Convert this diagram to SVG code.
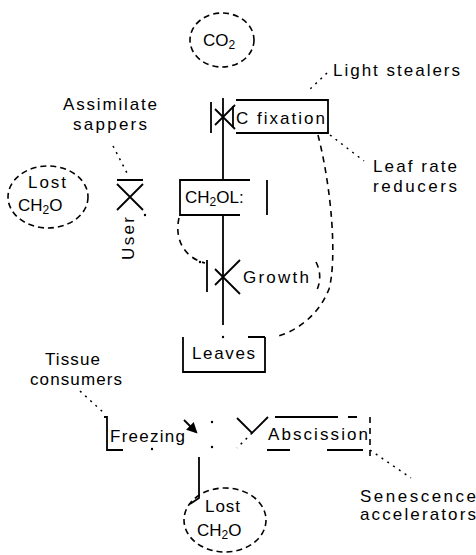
<svg xmlns="http://www.w3.org/2000/svg" width="476" height="555" viewBox="0 0 476 555">
<style>
.ln{stroke:#000;stroke-width:1.8;fill:none}
.cl{stroke:#000;stroke-width:1.6;fill:none;stroke-dasharray:6 4}
.dsh{stroke:#000;stroke-width:1.6;fill:none;stroke-dasharray:6 5}
.dot{stroke:#000;stroke-width:1.5;fill:none;stroke-dasharray:2 5}
.t{font-family:"Liberation Sans","DejaVu Sans",Arial,sans-serif;font-size:17px;fill:#000}
</style>
<defs>
<marker id="ah" viewBox="0 0 10 10" refX="8" refY="5" markerWidth="6" markerHeight="6" orient="auto">
<path d="M0,0 L10,5 L0,10 Z" fill="#000"/>
</marker>
</defs>
<rect width="476" height="555" fill="#fff"/>

<g id="connectors">
<path class="ln" d="M223,98 V181"/>
<path class="ln" d="M223,215 V325"/>
<path class="dsh" d="M318,135 C332,190 337,260 329,289 C319,315 296,332 275,337"/>
<path class="dsh" d="M316,262 C321,272 321,282 316,292"/>
<path class="dsh" d="M179,218 C174,240 185,258 205,263"/>
<path class="dot" d="M327,73 L308,91"/>
<path class="dot" d="M330,135 L364,161"/>
<path class="dot" d="M113,146 L128,175"/>
<path class="dot" d="M80,391 L105,414"/>
<path class="dot" d="M370,450 L411,478"/>
<path class="ln" d="M184,420 L196,432" marker-end="url(#ah)"/>
<path class="ln" d="M199,457 V498 L190,504"/>
<circle cx="212" cy="422" r="1.2" fill="#000"/>
<circle cx="212" cy="447" r="1.2" fill="#000"/>
<circle cx="223" cy="337" r="1.2" fill="#000"/>
<circle cx="145" cy="215" r="1.2" fill="#000"/>
<circle cx="200" cy="262" r="1.2" fill="#000"/>
</g>

<g id="co2">
<ellipse class="cl" cx="222" cy="40" rx="32" ry="27"/>
<text class="t" x="203" y="46">CO<tspan font-size="12" dy="3">2</tspan></text>
</g>

<g id="light-stealers">
<text class="t" x="333" y="76" textLength="127" lengthAdjust="spacing">Light stealers</text>
</g>

<g id="c-fixation">
<path class="ln" d="M211,102 V133 M215,109 L235,129 M215,125 L235,105"/>
<path class="ln" d="M236,100 H328 V133 H236 M233,106 V127"/>
<text class="t" x="236" y="124" textLength="89" lengthAdjust="spacing">C fixation</text>
</g>

<g id="leaf-rate-reducers">
<text class="t" x="373" y="172" textLength="84" lengthAdjust="spacing">Leaf rate</text>
<text class="t" x="373" y="192" textLength="84" lengthAdjust="spacing">reducers</text>
</g>

<g id="assimilate-sappers">
<text class="t" x="63" y="110" textLength="94" lengthAdjust="spacing">Assimilate</text>
<text class="t" x="73" y="130" textLength="74" lengthAdjust="spacing">sappers</text>
</g>

<g id="lost-ch2o-top">
<ellipse class="cl" cx="48" cy="197" rx="40" ry="31"/>
<text class="t" x="28" y="188" textLength="38" lengthAdjust="spacing">Lost</text>
<text class="t" x="18" y="211">CH<tspan font-size="12" dy="3">2</tspan><tspan dy="-3">O</tspan></text>
</g>

<g id="use">
<path class="ln" d="M117,180 H143 M117,184 L143,210 M117,210 L143,184"/>
<text class="t" transform="translate(134,260) rotate(-90)" x="0" y="0" textLength="43" lengthAdjust="spacing">User</text>
</g>

<g id="ch2o">
<path class="ln" d="M250,180 H180 V215 H240 M267,180 V215"/>
<text class="t" x="185" y="203">CH<tspan font-size="12" dy="3">2</tspan><tspan dy="-3">OL:</tspan></text>
</g>

<g id="growth">
<path class="ln" d="M207,260 V292 M215,269 L240,294 M215,285 L240,260"/>
<text class="t" x="243" y="283" textLength="66" lengthAdjust="spacing">Growth</text>
</g>

<g id="leaves">
<path class="ln" d="M183,337 V372 H265 V337 M248,337 H265"/>
<text class="t" x="192" y="359" textLength="63" lengthAdjust="spacing">Leaves</text>
</g>

<g id="tissue-consumers">
<text class="t" x="45" y="365" textLength="55" lengthAdjust="spacing">Tissue</text>
<text class="t" x="30" y="385" textLength="92" lengthAdjust="spacing">consumers</text>
</g>

<g id="freezing">
<path class="ln" d="M104,417 H107 V450 H123"/>
<circle cx="152" cy="449" r="1.2" fill="#000"/>
<text class="t" x="110" y="442" textLength="75" lengthAdjust="spacing">Freezing</text>
</g>

<g id="abscission">
<path class="ln" d="M237,418 L252,433 L268,417"/>
<path class="dot" d="M252,433 L237,448"/>
<path class="ln" d="M275,417 H338 M348,417 H357"/>
<path class="dsh" d="M370,417 V457"/>
<path class="ln" d="M267,450 H290 M327,450 H363"/>
<text class="t" x="268" y="440" textLength="100" lengthAdjust="spacing">Abscission</text>
</g>

<g id="senescence-accelerators">
<text class="t" x="360" y="502" textLength="116" lengthAdjust="spacing">Senescence</text>
<text class="t" x="360" y="520" textLength="116" lengthAdjust="spacing">accelerators</text>
</g>

<g id="lost-ch2o-bottom">
<ellipse class="cl" cx="225" cy="520" rx="41" ry="32"/>
<text class="t" x="205" y="512" textLength="35" lengthAdjust="spacing">Lost</text>
<text class="t" x="197" y="536">CH<tspan font-size="12" dy="3">2</tspan><tspan dy="-3">O</tspan></text>
</g>
</svg>
